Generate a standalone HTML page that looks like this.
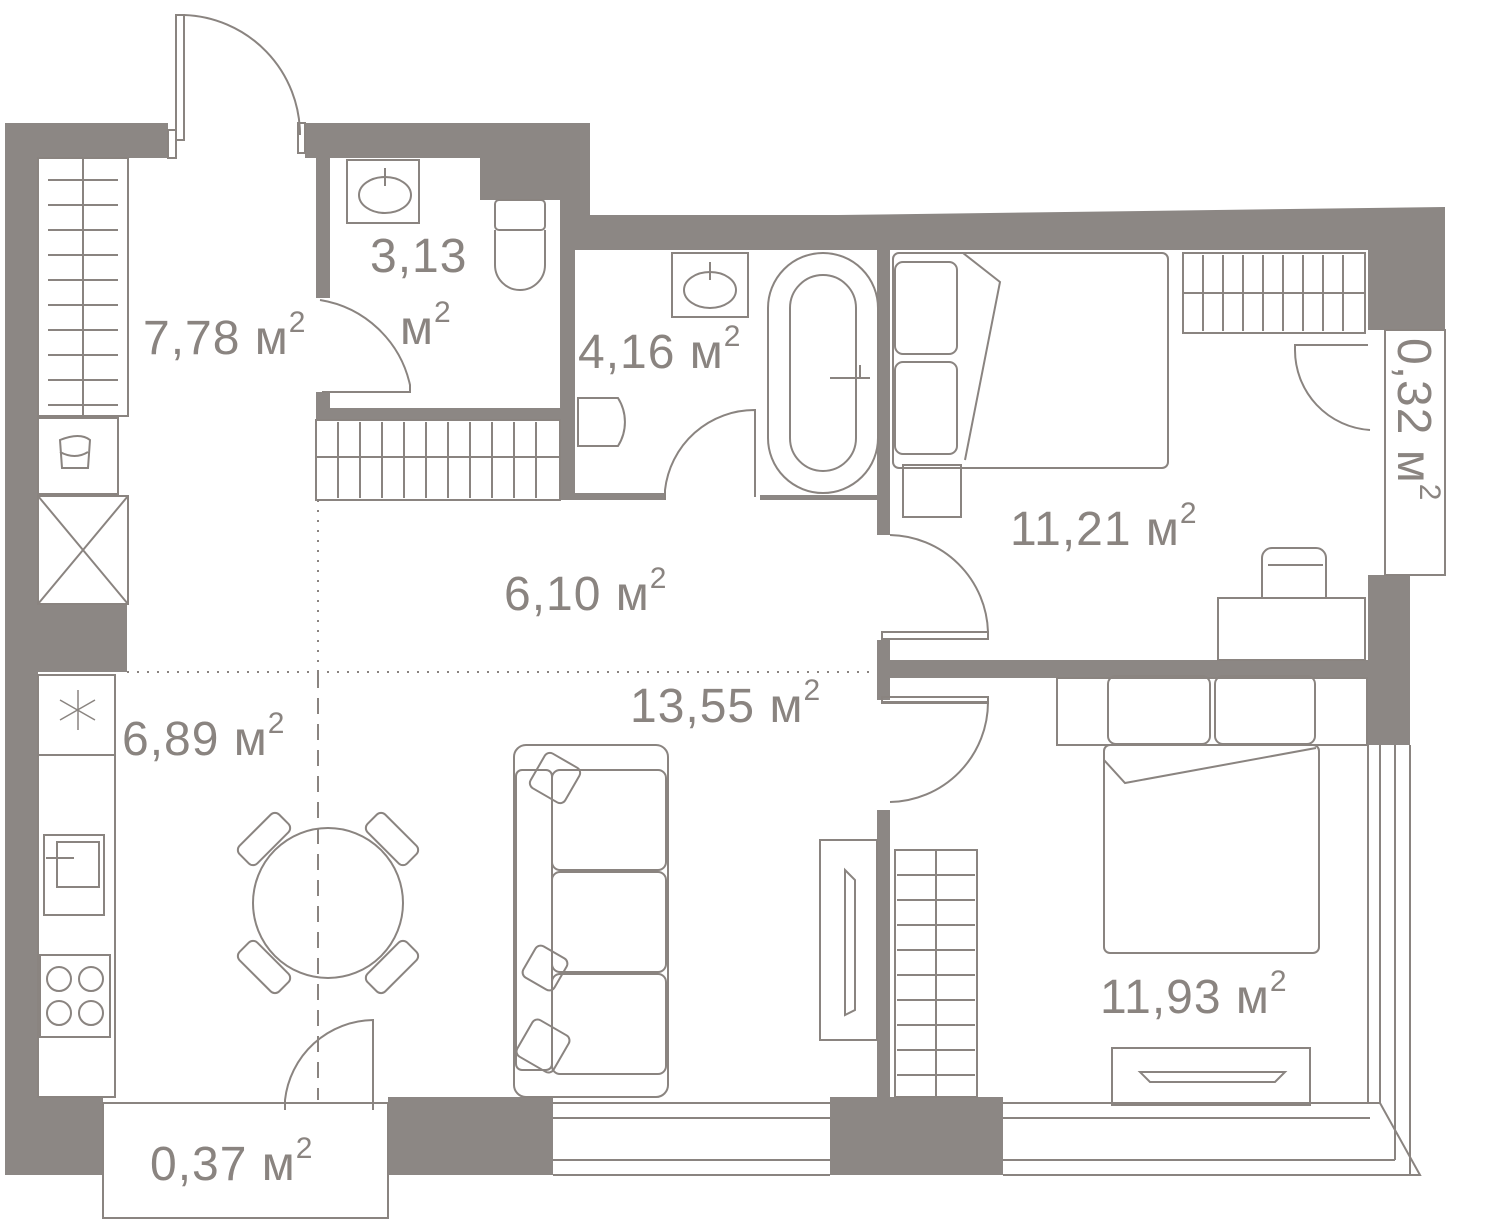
<!DOCTYPE html>
<html><head><meta charset="utf-8"><style>
html,body{margin:0;padding:0;background:#fff;width:1500px;height:1222px;overflow:hidden}
svg{display:block}
text{font-family:"Liberation Sans",sans-serif;fill:#8a8480;font-size:48px;letter-spacing:1px}
</style></head><body>
<svg width="1500" height="1222" viewBox="0 0 1500 1222" xmlns="http://www.w3.org/2000/svg">
<g fill="#8c8784" stroke="none">
<polygon points="5,123 168,123 168,158 38,158 38,1097 103,1097 103,1175 5,1175"/>
<rect x="38" y="605" width="89" height="67"/>
<polygon points="305,123 590,123 590,215 838,215 838,250 575,250 575,200 480,200 480,158 330,158 330,158 305,158"/>
<polygon points="838,215 1445,207 1445,330 1385,330 1385,330 1368,330 1368,250 838,250"/>
<rect x="1368" y="575" width="42" height="170"/>
<rect x="316" y="158" width="14" height="140"/>
<rect x="316" y="392" width="14" height="28"/>
<rect x="316" y="408" width="259" height="12"/>
<rect x="560" y="200" width="15" height="295"/>
<rect x="560" y="493" width="105" height="7"/>
<rect x="877" y="250" width="13" height="285"/>
<rect x="760" y="495" width="120" height="5"/>
<rect x="877" y="660" width="491" height="18"/>
<rect x="877" y="640" width="13" height="60"/>
<rect x="877" y="810" width="13" height="287"/>
<rect x="388" y="1097" width="165" height="78"/>
<rect x="830" y="1097" width="173" height="78"/>
</g>
<g fill="none" stroke="#8a8480" stroke-width="2">
<rect x="168" y="130" width="8" height="28"/>
<rect x="176" y="15" width="8" height="125"/>
<path d="M184,15 A120,120 0 0 1 300,135"/>
<rect x="298" y="123" width="7" height="30"/>
<rect x="38" y="158" width="90" height="258"/>
<line x1="83" y1="158" x2="83" y2="416"/>
<path d="M48,180H118M48,205H118M48,230H118M48,255H118M48,280H118M48,305H118M48,330H118M48,355H118M48,380H118M48,405H118"/>
<rect x="38" y="418" width="80" height="76"/>
<path d="M60,440 q20,-8 30,0 l-2,28 h-26 z M60,452 q15,8 28,0"/>
<rect x="38" y="496" width="90" height="108"/>
<path d="M38,496 L128,604 M128,496 L38,604"/>
<rect x="38" y="675" width="77" height="422"/>
<line x1="38" y1="755" x2="115" y2="755"/>
<rect x="44" y="835" width="60" height="80"/>
<rect x="57" y="842" width="42" height="45"/>
<path d="M46,858 h28"/>
<rect x="40" y="955" width="70" height="82"/>
<circle cx="59" cy="979" r="12"/><circle cx="91" cy="979" r="12"/>
<circle cx="59" cy="1013" r="12"/><circle cx="91" cy="1013" r="12"/>
<path d="M78,690 v40 M60,700 l35,20 M95,700 l-35,20" stroke-width="1.5"/>
<rect x="347" y="160" width="72" height="63"/>
<ellipse cx="385" cy="195" rx="26" ry="18"/>
<path d="M385,168 v18"/>
<rect x="495" y="200" width="50" height="30" rx="4"/>
<path d="M495,230 v35 a25,25 0 0 0 50,0 v-35"/>
<path d="M320,300 A110,110 0 0 1 410,385 L410,392 L322,392"/>
<rect x="672" y="253" width="76" height="64"/>
<ellipse cx="710" cy="290" rx="26" ry="18"/>
<path d="M710,262 v18"/>
<rect x="768" y="253" width="110" height="240" rx="55"/>
<rect x="790" y="275" width="66" height="196" rx="33"/>
<path d="M830,378 h40 M860,365 v13"/>
<path d="M578,398 h40 a45,45 0 0 1 0,48 h-40 z"/>
<path d="M665,500 L665,490 A90,90 0 0 1 755,410 L755,497"/>
<rect x="316" y="420" width="244" height="80"/>
<line x1="316" y1="457" x2="560" y2="457"/>
<path d="M338,422V498M360,422V498M382,422V498M404,422V498M426,422V498M448,422V498M470,422V498M492,422V498M514,422V498M536,422V498"/>
<path d="M890,535 A100,100 0 0 1 988,632 L988,632 L882,632"/>
<rect x="882" y="632" width="106" height="7"/>
<path d="M890,802 A100,100 0 0 0 988,702 L882,702"/>
<rect x="882" y="697" width="106" height="6"/>
<rect x="893" y="253" width="275" height="215" rx="6"/>
<path d="M963,253 L1000,282 L965,460"/>
<rect x="895" y="262" width="62" height="92" rx="8"/>
<rect x="895" y="362" width="62" height="92" rx="8"/>
<rect x="903" y="465" width="58" height="52"/>
<rect x="1183" y="253" width="182" height="80"/>
<line x1="1183" y1="293" x2="1365" y2="293"/>
<path d="M1203,255V331M1223,255V331M1243,255V331M1263,255V331M1283,255V331M1303,255V331M1323,255V331M1343,255V331"/>
<path d="M1368,345 L1295,345 L1295,350 A80,80 0 0 0 1370,430"/>
<rect x="1385" y="330" width="60" height="245"/>
<rect x="1218" y="598" width="147" height="62"/>
<path d="M1262,598 v-40 a10,10 0 0 1 10,-10 h44 a10,10 0 0 1 10,10 v40 M1268,565 h55"/>
<rect x="1057" y="678" width="310" height="67"/>
<rect x="1104" y="745" width="215" height="208" rx="6"/>
<rect x="1108" y="676" width="102" height="68" rx="8"/>
<rect x="1215" y="676" width="100" height="68" rx="8"/>
<path d="M1104,760 L1125,783 L1316,748"/>
<rect x="1112" y="1048" width="198" height="57"/>
<path d="M1140,1072 h145 l-10,10 h-125 z"/>
<rect x="895" y="850" width="82" height="247"/>
<line x1="936" y1="850" x2="936" y2="1097"/>
<path d="M897,875h78M897,900h78M897,925h78M897,950h78M897,975h78M897,1000h78M897,1025h78M897,1050h78M897,1075h78"/>
<path d="M553,1103 H830 M553,1118 H830 M553,1160 H830 M553,1175 H830"/>
<path d="M1003,1103 H1380 L1420,1175 H1003 M1003,1118 H1370 M1003,1160 H1395"/>
<path d="M1368,745 V1103 M1380,745 V1103 M1395,745 V1160 M1410,745 V1175"/>
<rect x="103" y="1103" width="285" height="115"/>
<rect x="820" y="840" width="57" height="200"/>
<path d="M845,870 l10,10 v130 l-10,5 z"/>
<rect x="514" y="745" width="154" height="352" rx="12"/>
<rect x="552" y="770" width="114" height="100" rx="8"/>
<rect x="552" y="872" width="114" height="100" rx="8"/>
<rect x="552" y="974" width="114" height="100" rx="8"/>
<rect x="516" y="770" width="36" height="300" rx="6"/>
<rect x="535" y="758" width="40" height="40" rx="6" transform="rotate(30 555 778)"/>
<rect x="527" y="950" width="36" height="36" rx="6" transform="rotate(30 545 968)"/>
<rect x="522" y="1025" width="42" height="42" rx="6" transform="rotate(30 543 1046)"/>
<circle cx="328" cy="903" r="75"/>
<g transform="rotate(-45 328 903)"><rect x="300" y="800" width="56" height="25" rx="6"/><rect x="300" y="981" width="56" height="25" rx="6"/></g>
<g transform="rotate(45 328 903)"><rect x="300" y="800" width="56" height="25" rx="6"/><rect x="300" y="981" width="56" height="25" rx="6"/></g>
<path d="M285,1110 L285,1100 A90,90 0 0 1 373,1020 L373,1110"/>
</g>
<g stroke="#8a8480" stroke-width="2" fill="none">
<path d="M318,500 V672 M127,672 H877" stroke-dasharray="2,8"/>
<path d="M318,672 V1100" stroke-dasharray="16,10"/>
</g>
<text x="143" y="354">7,78 м<tspan font-size="30" dy="-22">2</tspan></text>
<text x="370" y="272">3,13</text>
<text x="400" y="344">м<tspan font-size="30" dy="-22">2</tspan></text>
<text x="578" y="368">4,16 м<tspan font-size="30" dy="-22">2</tspan></text>
<text x="504" y="610">6,10 м<tspan font-size="30" dy="-22">2</tspan></text>
<text x="1010" y="545">11,21 м<tspan font-size="30" dy="-22">2</tspan></text>
<text x="630" y="722">13,55 м<tspan font-size="30" dy="-22">2</tspan></text>
<text x="122" y="755">6,89 м<tspan font-size="30" dy="-22">2</tspan></text>
<text x="1100" y="1013">11,93 м<tspan font-size="30" dy="-22">2</tspan></text>
<text x="150" y="1180">0,37 м<tspan font-size="30" dy="-22">2</tspan></text>
<text transform="translate(1398,338) rotate(90)">0,32 м<tspan font-size="30" dy="-22">2</tspan></text>
</svg>
</body></html>
